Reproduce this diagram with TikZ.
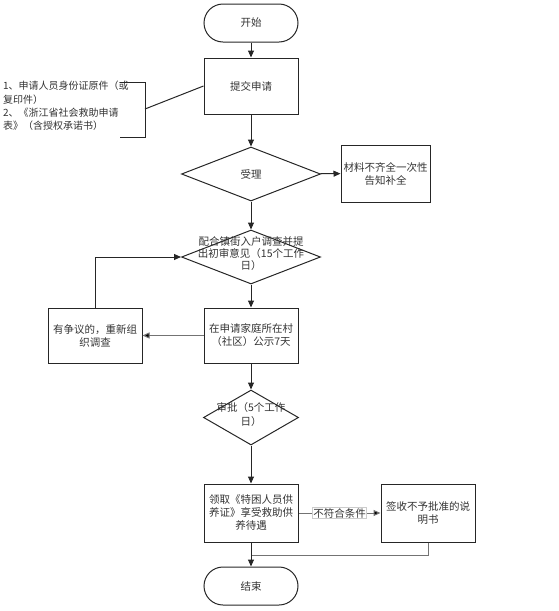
\documentclass[tikz,border=0pt]{standalone}
\usepackage{fontspec}
\setmainfont{Noto Sans CJK SC}
\usetikzlibrary{shapes.geometric,arrows.meta}
\begin{document}
\begin{tikzpicture}[x=1pt,y=-1pt,
  every node/.style={font=\fontsize{10.5}{13}\selectfont, text=black!80},
  boxnode/.style={draw=black!85, line width=1pt, minimum width=94pt, inner sep=1pt, align=center, text width=90pt},
  termnode/.style={draw=black!85, line width=1pt, rounded corners=19pt, minimum width=94pt, minimum height=38pt},
  dianode/.style={draw=black!85, line width=1pt, diamond, inner sep=0pt, minimum width=139pt, minimum height=54pt},
  arr/.style={line width=1pt, draw=black!85, -{Triangle[length=7pt,width=6pt]}},
  grayarr/.style={line width=1pt, draw=black!55, -{Triangle[length=7pt,width=6pt,fill=black]}},
  ln/.style={line width=1pt, draw=black!85}
]
\useasboundingbox (0,0) rectangle (558,611);

\node[termnode] (start) at (251,23) {开始};
\node[boxnode, minimum height=56pt] (submit) at (251,86) {提交申请};
\node[dianode] (accept) at (251,174) {};
\node at (accept) {受理};
\node[boxnode, minimum width=89pt, text width=87pt, minimum height=57pt] (material) at (385.5,173.5) {材料不齐全一次性\\告知补全};
\node[dianode] (survey) at (251,257) {};
\node[align=center, font=\fontsize{10.5}{12}\selectfont] (surveytext) at (251,254) {配合镇街入户调查并提\\出初审意见（15个工作\\日）};
\node[boxnode, minimum height=55pt] (publicize) at (251,335.5) {在申请家庭所在村\\（社区）公示7天};
\node[boxnode, minimum height=55pt] (dispute) at (95,335.5) {有争议的，重新组\\织调查};
\node[dianode, minimum width=95pt, minimum height=55pt] (approve) at (251,417.5) {};
\node[align=center, font=\fontsize{10.5}{14}\selectfont] (approvetext) at (251,415) {审批（5个工作\\日）};
\node[boxnode, minimum height=58pt] (receive) at (251,513) {领取《特困人员供\\养证》享受救助供\\养待遇};
\node[boxnode, minimum height=58pt] (refuse) at (428,513) {签收不予批准的说\\明书};
\node[termnode] (end) at (251,586) {结束};

\node[anchor=north west, align=left, inner sep=0pt, font=\fontsize{10}{13.3}\selectfont] (docs) at (3,81) {1、申请人员身份证原件（或\\复印件）\\2、《浙江省社会救助申请\\表》（含授权承诺书）};
\coordinate (btop) at (120,82);
\coordinate (bbot) at (120,137);
\coordinate (bmid) at (145,109);
\draw[ln] (btop) -- (145,82) -- (145,137) -- (bbot);
\draw[ln] (bmid) -- (submit.west);

\draw[arr] (start) -- (submit);
\draw[arr] (submit) -- (accept);
\draw[arr] (accept) -- (material);
\draw[arr] (accept) -- (survey);
\draw[arr] (survey) -- (publicize);
\draw[grayarr] (publicize) -- (dispute);
\draw[arr] (dispute.north) |- (survey.west);
\draw[arr] (publicize) -- (approve);
\draw[arr] (approve) -- (receive);
\draw[grayarr] (receive) -- node[fill=white, draw=black!20, inner sep=1pt] {不符合条件} (refuse);
\coordinate (join) at (251,555);
\draw[line width=1pt, draw=black!55] (refuse.south) |- (join);
\draw[arr] (receive) -- (end);
\end{tikzpicture}
\end{document}
